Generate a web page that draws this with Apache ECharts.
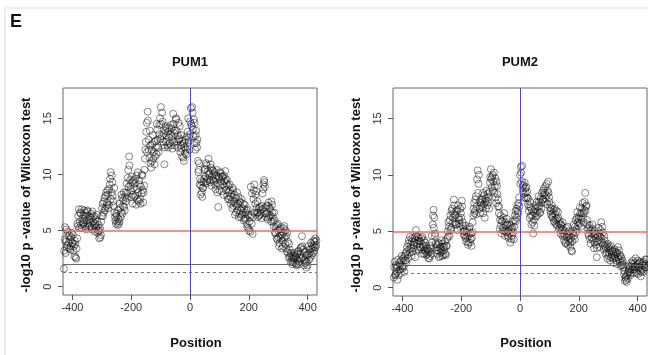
<!DOCTYPE html>
<html>
<head>
<meta charset="utf-8">
<script src="https://cdn.jsdelivr.net/npm/echarts@6/dist/echarts.min.js"></script>
<style>
  html, body { margin: 0; padding: 0; background: #fff; }
  #chart { width: 648px; height: 355px; }
</style>
</head>
<body>
<div id="chart"></div>
<script>
// two interleaved position runs, step 3: A from -429, B from -428
var posStep = 3;
var startA = -429, startB = -428;

var pum1ValuesA = [
  1.6, 4.2, 3.0, 5.1, 3.7, 4.5, 3.4, 4.2, 3.6, 4.8,
  3.9, 3.2, 2.7, 3.8, 2.5, 4.3, 5.4, 6.9, 5.8, 6.5,
  5.2, 6.1, 5.6, 6.8, 5.4, 6.3, 5.9, 6.7, 5.3, 6.0,
  5.7, 6.5, 5.1, 6.2, 5.5, 4.9, 6.0, 5.3, 5.8, 5.0,
  4.3, 5.2, 4.6, 6.3, 7.4, 6.6, 7.9, 7.0, 8.4, 7.5,
  8.2, 7.3, 9.1, 10.2, 8.4, 9.3, 7.6, 8.8, 6.2, 5.6,
  6.3, 5.5, 6.0, 5.8, 7.0, 6.6, 7.9, 7.2, 8.4, 6.8,
  7.6, 9.2, 8.3, 10.4, 11.6, 9.5, 8.6, 9.8, 7.4, 8.8,
  8.0, 9.6, 7.3, 8.7, 10.2, 7.6, 9.1, 7.4, 8.3, 9.9,
  7.5, 9.0, 11.4, 12.9, 14.6, 15.6, 13.1, 11.5, 12.6, 10.6,
  11.2, 13.5, 12.0, 10.9, 13.0, 11.8, 14.0, 12.4, 13.6, 15.0,
  16.0, 13.4, 14.7, 12.6, 10.9, 13.9, 12.9, 14.1, 12.4, 13.3,
  12.8, 14.4, 13.4, 12.3, 15.4, 13.7, 12.6, 14.9, 13.9, 12.4,
  14.6, 13.2, 12.0, 13.5, 11.6, 12.7, 11.2, 12.4, 13.1, 11.8,
  12.5, 15.0, 13.3, 14.7, 15.9, 14.3, 15.5, 13.4, 14.6, 12.2,
  13.9, 12.4, 11.2, 10.4, 9.1, 8.2, 9.4, 8.0, 8.8, 9.6,
  10.5, 9.2, 10.8, 9.6, 11.4, 10.1, 9.3, 10.6, 9.8, 10.3,
  9.4, 10.2, 8.7, 9.9, 8.4, 7.1, 9.7, 9.0, 10.1, 8.5,
  9.8, 8.2, 9.4, 10.3, 8.6, 9.5, 7.8, 8.4, 9.1, 7.4,
  8.3, 7.0, 8.6, 7.6, 6.4, 7.9, 7.2, 6.8, 8.0, 6.5,
  7.5, 6.2, 7.0, 6.6, 5.9, 7.3, 6.1, 6.8, 5.3, 6.4,
  5.0, 6.2, 8.9, 5.6, 4.7, 7.8, 9.1, 7.4, 8.5, 6.6,
  6.2, 7.0, 6.4, 6.8, 6.1, 6.9, 8.7, 9.5, 8.9, 6.5,
  7.2, 6.0, 7.5, 6.4, 6.9, 5.8, 7.3, 6.2, 5.4, 5.9,
  4.8, 5.5, 4.2, 5.0, 3.6, 4.6, 5.3, 3.4, 4.1, 4.8,
  5.4, 3.8, 4.5, 3.1, 4.0, 2.6, 3.3, 2.2, 2.8, 2.0,
  2.5, 3.0, 2.1, 2.7, 1.9, 2.4, 3.2, 2.2, 2.9, 3.5,
  4.5, 2.6, 1.9, 3.1, 2.3, 1.7, 2.8, 3.6, 2.4, 3.0,
  3.9, 2.8, 3.4, 4.1, 3.2, 4.3, 3.7
];
var pum1ValuesB = [
  3.2, 5.3, 4.0, 3.5, 4.9, 3.9, 4.6, 3.3, 4.4, 3.9,
  4.6, 3.6, 4.1, 2.6, 3.4, 5.6, 6.3, 5.2, 6.6, 5.5,
  6.9, 5.7, 6.4, 5.9, 6.6, 5.1, 6.8, 5.6, 6.3, 5.4,
  6.1, 5.3, 6.7, 5.8, 6.3, 5.6, 5.2, 6.4, 4.8, 5.5,
  5.0, 4.4, 5.8, 7.0, 6.3, 7.6, 6.8, 8.1, 7.2, 8.6,
  7.0, 8.7, 9.6, 7.8, 9.9, 8.1, 7.2, 6.6, 5.9, 6.5,
  5.8, 6.8, 5.6, 7.4, 6.2, 8.2, 6.5, 7.7, 7.1, 8.0,
  8.4, 7.9, 9.7, 8.9, 10.8, 9.0, 8.0, 9.3, 8.2, 9.5,
  9.2, 8.1, 9.9, 7.7, 8.4, 9.5, 7.8, 8.9, 10.0, 8.6,
  8.4, 10.4, 12.2, 13.8, 12.0, 14.8, 12.2, 13.9, 11.0, 12.2,
  12.7, 11.4, 12.9, 11.6, 12.4, 14.5, 13.1, 12.0, 14.4, 13.2,
  14.5, 15.5, 12.9, 13.6, 12.4, 14.3, 13.5, 12.6, 13.8, 14.2,
  13.6, 12.6, 14.1, 13.0, 14.5, 12.9, 13.9, 15.0, 12.9, 13.5,
  13.1, 14.3, 12.6, 12.3, 13.0, 11.5, 12.8, 11.9, 12.2, 13.4,
  13.8, 12.9, 12.2, 13.6, 14.5, 16.0, 14.0, 14.9, 12.8, 13.5,
  12.8, 13.1, 10.2, 11.0, 9.6, 9.0, 8.4, 8.8, 9.3, 10.4,
  9.8, 11.0, 9.4, 10.3, 10.0, 9.5, 10.9, 9.0, 10.4, 9.5,
  10.0, 9.1, 9.6, 10.4, 9.2, 9.8, 8.6, 10.2, 9.4, 9.8,
  9.1, 9.9, 8.9, 9.6, 9.2, 8.1, 9.0, 7.8, 8.6, 8.0,
  7.6, 8.8, 7.2, 8.2, 7.4, 6.6, 8.4, 7.4, 6.2, 7.6,
  6.8, 7.8, 6.4, 7.4, 6.9, 6.0, 6.6, 5.6, 6.9, 5.2,
  5.8, 4.9, 6.4, 8.3, 6.2, 8.6, 6.6, 8.2, 7.0, 7.6,
  6.6, 6.3, 7.1, 6.5, 7.2, 8.3, 9.1, 9.3, 7.0, 6.2,
  6.6, 7.2, 6.2, 7.0, 6.3, 7.6, 6.6, 5.8, 6.6, 4.8,
  5.2, 4.3, 5.6, 4.4, 3.9, 5.1, 4.3, 4.6, 3.6, 5.2,
  4.4, 5.0, 3.4, 4.8, 3.0, 3.8, 2.7, 3.0, 2.3, 2.6,
  2.2, 2.6, 2.8, 2.0, 2.9, 3.1, 2.0, 2.6, 3.4, 2.5,
  3.6, 3.3, 2.4, 2.1, 2.8, 2.2, 1.9, 2.9, 3.3, 2.6,
  3.4, 3.7, 3.0, 3.6, 4.0, 3.5, 4.1
];

var pum2ValuesA = [
  0.9, 2.3, 1.2, 1.8, 0.7, 2.5, 1.5, 2.0, 1.3, 2.8,
  1.7, 2.4, 1.4, 3.0, 2.2, 3.6, 2.6, 4.2, 3.1, 3.8,
  2.8, 4.4, 3.5, 4.0, 2.7, 5.1, 3.9, 4.5, 3.3, 4.1,
  3.6, 4.4, 3.0, 3.8, 4.2, 3.3, 3.7, 2.9, 3.4, 2.6,
  3.2, 2.8, 3.5, 4.6, 5.6, 6.9, 6.2, 4.8, 3.6, 3.0,
  4.0, 2.7, 3.5, 3.1, 4.2, 2.8, 3.6, 3.3, 4.1, 2.9,
  3.7, 5.0, 5.8, 4.6, 6.4, 5.3, 7.0, 6.2, 7.8, 6.5,
  5.6, 6.8, 5.1, 7.3, 6.0, 5.4, 6.6, 7.7, 5.8, 5.0,
  4.6, 5.5, 4.1, 5.2, 3.8, 4.7, 5.4, 4.3, 3.7, 4.9,
  6.4, 7.5, 6.8, 8.1, 7.2, 10.4, 9.2, 7.6, 6.6, 7.8,
  7.1, 8.4, 7.4, 6.2, 7.9, 8.6, 7.3, 8.0, 7.0, 9.3,
  10.5, 8.9, 10.0, 9.4, 8.4, 9.7, 7.5, 9.0, 7.2, 6.6,
  5.2, 6.4, 4.8, 5.9, 5.3, 6.6, 4.6, 5.5, 6.1, 5.0,
  4.4, 5.6, 4.0, 5.2, 4.6, 5.9, 4.3, 6.0, 6.8, 6.2,
  7.3, 6.6, 8.0, 10.0, 10.7, 9.4, 8.6, 9.1, 8.0, 8.8,
  7.9, 8.5, 7.4, 6.8, 6.2, 7.1, 5.6, 6.4, 4.8, 6.0,
  7.0, 6.3, 7.6, 6.8, 8.1, 7.2, 6.7, 7.5, 8.4, 7.8,
  8.8, 7.6, 9.0, 8.2, 7.4, 9.4, 8.0, 7.1, 6.5, 7.3,
  6.2, 6.9, 5.8, 6.5, 5.6, 6.1, 6.7, 5.2, 5.9, 4.8,
  5.5, 4.6, 5.2, 4.2, 5.0, 3.9, 4.5, 5.4, 4.1, 4.7,
  3.6, 4.4, 3.2, 4.8, 5.6, 4.3, 6.0, 5.2, 6.7, 5.5,
  6.3, 7.1, 5.4, 6.6, 7.5, 5.8, 6.9, 8.4, 7.2, 6.0,
  5.2, 4.6, 5.5, 3.9, 4.8, 5.6, 4.2, 3.5, 5.0, 4.4,
  2.7, 4.1, 5.3, 3.6, 4.5, 5.8, 4.0, 4.9, 3.4, 4.2,
  3.0, 3.8, 2.6, 3.5, 3.1, 2.4, 3.7, 2.9, 3.3, 2.2,
  3.4, 2.6, 3.0, 2.1, 3.6, 2.5, 2.9, 1.9, 2.6, 2.2,
  1.8, 1.2, 0.6, 1.0, 0.5, 1.3, 1.9, 1.4, 1.1, 2.2,
  1.6, 2.4, 1.3, 1.9, 2.6, 1.5, 2.1, 1.2, 1.8, 2.3,
  1.0, 1.7, 2.2, 1.4, 2.0, 2.5, 1.8
];
var pum2ValuesB = [
  1.8, 1.1, 2.0, 1.4, 1.9, 1.1, 2.2, 1.6, 2.4, 1.9,
  2.6, 1.9, 2.8, 2.4, 3.2, 2.9, 3.9, 3.4, 4.5, 3.5,
  4.1, 3.2, 3.8, 4.4, 4.2, 4.6, 3.4, 4.2, 4.4, 3.6,
  4.1, 3.4, 4.5, 3.6, 3.0, 4.0, 3.2, 3.5, 3.0, 3.3,
  2.6, 3.7, 3.0, 4.0, 6.4, 5.3, 4.6, 3.9, 3.3, 3.8,
  3.3, 3.9, 2.8, 3.6, 3.2, 3.9, 2.9, 3.6, 3.0, 3.7,
  4.3, 4.5, 5.4, 6.0, 5.1, 6.8, 5.7, 6.6, 7.3, 5.8,
  6.4, 5.6, 6.9, 6.2, 5.7, 7.0, 6.2, 7.2, 5.5, 4.7,
  5.1, 4.4, 4.9, 4.5, 4.0, 5.2, 4.0, 4.8, 4.4, 5.8,
  7.0, 6.6, 7.8, 6.5, 9.6, 8.4, 10.0, 7.0, 7.5, 7.3,
  7.8, 6.6, 8.2, 7.6, 7.0, 7.7, 8.3, 7.6, 8.5, 9.8,
  9.6, 9.8, 8.6, 10.2, 9.0, 8.0, 9.4, 8.3, 7.8, 7.2,
  6.0, 5.5, 5.9, 5.1, 6.2, 5.0, 5.8, 4.9, 5.6, 4.6,
  5.2, 4.8, 5.5, 4.3, 5.3, 4.9, 5.4, 6.4, 5.9, 7.0,
  6.8, 7.5, 7.2, 9.2, 10.2, 10.8, 9.0, 8.3, 9.3, 8.4,
  8.9, 8.0, 7.9, 7.2, 7.6, 6.4, 6.9, 5.8, 6.7, 5.5,
  6.6, 7.3, 6.4, 7.2, 7.6, 6.6, 7.9, 7.0, 7.8, 8.6,
  8.2, 8.4, 7.9, 9.2, 8.6, 8.4, 7.6, 6.8, 7.0, 6.3,
  6.6, 5.9, 7.0, 6.0, 6.8, 5.5, 6.2, 5.7, 5.3, 5.6,
  5.1, 5.8, 4.8, 4.6, 4.0, 5.3, 4.7, 3.8, 5.0, 4.3,
  4.0, 3.3, 4.1, 5.0, 4.6, 5.4, 4.9, 6.2, 5.8, 6.1,
  5.7, 6.6, 6.1, 7.0, 6.2, 6.6, 7.6, 6.8, 7.3, 5.6,
  4.8, 5.3, 4.3, 5.1, 4.4, 5.2, 4.8, 4.0, 4.7, 3.8,
  3.5, 4.6, 4.2, 4.8, 5.1, 4.4, 5.4, 3.8, 4.6, 3.7,
  3.5, 3.1, 3.9, 2.8, 3.6, 3.3, 2.7, 3.2, 2.6, 3.0,
  2.8, 3.2, 2.4, 3.1, 2.7, 3.3, 2.3, 2.8, 2.0, 2.4,
  2.0, 1.5, 0.9, 0.7, 1.1, 0.8, 1.5, 1.7, 1.3, 1.9,
  2.1, 1.8, 1.6, 2.2, 1.9, 1.3, 2.4, 1.7, 2.2, 1.5,
  1.4, 2.0, 1.6, 2.3, 1.8, 2.1, 2.5
];

var panelTitles = ['PUM1', 'PUM2'];
var xTicks = [-400, -200, 0, 200, 400];
var yTicks = [0, 5, 10, 15];
var redCut = 5;       // red threshold
var solidCut = 2;     // grey solid threshold
var dashCut = 1.3;    // -log10(0.05)

var font = 'Liberation Sans, Arial, Helvetica, sans-serif';

function toPoints(start, values) {
  return values.map(function (v, i) { return [start + i * posStep, v]; });
}

var grids = [
  { left: 63, top: 88, width: 254, height: 207 },
  { left: 393, top: 88, width: 254, height: 208 }
];
var panelData = [
  [toPoints(startA, pum1ValuesA), toPoints(startB, pum1ValuesB)],
  [toPoints(startA, pum2ValuesA), toPoints(startB, pum2ValuesB)]
];

var xAxes = [], yAxes = [], series = [], graphics = [];

grids.forEach(function (g, i) {
  g.show = true;
  g.borderColor = '#666';
  g.borderWidth = 1;
  g.outerBoundsMode = 'none';

  xAxes.push({
    gridIndex: i, type: 'value', min: -432, max: 432, position: 'bottom',
    axisLine: { show: false, onZero: false },
    splitLine: { show: false },
    axisTick: { customValues: xTicks, length: 5, lineStyle: { color: '#555' } },
    axisLabel: { customValues: xTicks, margin: 7, color: '#333', fontSize: 11, fontFamily: font }
  });
  yAxes.push({
    gridIndex: i, type: 'value', min: -0.74, max: 17.7, position: 'left',
    axisLine: { show: false, onZero: false },
    splitLine: { show: false },
    axisTick: { customValues: yTicks, length: 5, lineStyle: { color: '#555' } },
    axisLabel: { customValues: yTicks, rotate: 90, margin: 10, color: '#333', fontSize: 11, fontFamily: font }
  });

  panelData[i].forEach(function (pts, k) {
    var s = {
      type: 'scatter',
      xAxisIndex: i, yAxisIndex: i,
      data: pts,
      symbol: 'circle',
      symbolSize: 7,
      itemStyle: { color: 'rgba(0,0,0,0)', borderColor: 'rgba(10,10,10,0.62)', borderWidth: 1 },
      silent: true
    };
    if (k === 0) {
      s.markLine = {
        silent: true, symbol: 'none',
        label: { show: false },
        data: [
          { yAxis: redCut, lineStyle: { color: '#ee6b6b', width: 1.5, type: 'solid' } },
          { yAxis: solidCut, lineStyle: { color: '#666', width: 1, type: 'solid' } },
          { yAxis: dashCut, lineStyle: { color: '#777', width: 1, type: [3, 3] } },
          { xAxis: 0, lineStyle: { color: '#4a4ac8', width: 1, type: 'solid' } }
        ]
      };
    }
    series.push(s);
  });

  var cx = g.left + g.width / 2;
  graphics.push({
    type: 'text', x: cx, y: 62,
    style: { text: panelTitles[i], font: 'bold 13px ' + font, fill: '#111', align: 'center', verticalAlign: 'middle' }
  });
  graphics.push({
    type: 'text', x: cx + 6, y: 343,
    style: { text: 'Position', font: 'bold 13px ' + font, fill: '#111', align: 'center', verticalAlign: 'middle' }
  });
  graphics.push({
    type: 'text', x: g.left - 37, y: 195, rotation: Math.PI / 2,
    style: { text: '-log10 p -value of Wilcoxon test', font: 'bold 13px ' + font, fill: '#111', align: 'center', verticalAlign: 'middle' }
  });
});

graphics.push({
  type: 'rect', shape: { x: 5, y: 8, width: 700, height: 400 },
  style: { fill: 'none', stroke: '#ddd', lineWidth: 1 }, silent: true
});
graphics.push({
  type: 'text', x: 10, y: 22,
  style: { text: 'E', font: 'bold 18px ' + font, fill: '#111', verticalAlign: 'middle' }
});

var chart = echarts.init(document.getElementById('chart'));
chart.setOption({
  animation: false,
  backgroundColor: '#fff',
  grid: grids,
  xAxis: xAxes,
  yAxis: yAxes,
  series: series,
  graphic: graphics
});
</script>
</body>
</html>
